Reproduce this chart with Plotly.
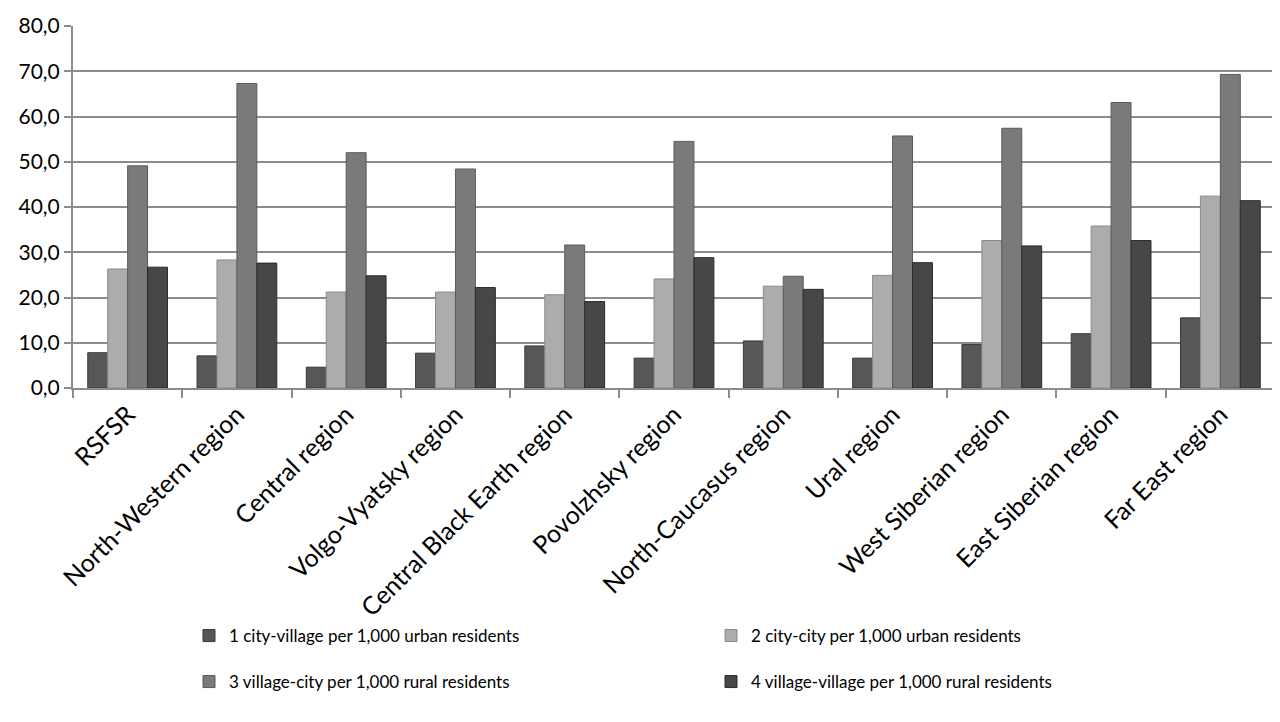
import plotly.graph_objects as go

categories = ["RSFSR", "North-Western region", "Central region", "Volgo-Vyatsky region",
              "Central Black Earth region", "Povolzhsky region", "North-Caucasus region",
              "Ural region", "West Siberian region", "East Siberian region", "Far East region"]

series_names = ["1 city-village per 1,000 urban residents",
                "2 city-city per 1,000 urban residents",
                "3 village-city per 1,000 rural residents",
                "4 village-village per 1,000 rural residents"]

city_village = [7.8, 7.1, 4.6, 7.7, 9.3, 6.6, 10.4, 6.6, 9.6, 12.0, 15.5]
city_city = [26.3, 28.3, 21.2, 21.2, 20.6, 24.1, 22.5, 24.9, 32.6, 35.8, 42.4]
village_city = [49.1, 67.3, 52.0, 48.4, 31.6, 54.5, 24.7, 55.7, 57.4, 63.1, 69.3]
village_village = [26.7, 27.6, 24.8, 22.2, 19.1, 28.8, 21.8, 27.7, 31.4, 32.6, 41.4]

colors = ["#575757", "#acacac", "#7a7a7a", "#474747"]
line_colors = ["#3a3a3a", "#8a8a8a", "#5a5a5a", "#2a2a2a"]
legends = ["legend", "legend", "legend2", "legend2"]

W, H = 1272, 714

fig = go.Figure()
for name, vals, c, lc, lg in zip(series_names,
                                 [city_village, city_city, village_city, village_village],
                                 colors, line_colors, legends):
    fig.add_trace(go.Bar(x=categories, y=vals, name=name, legend=lg,
                         marker=dict(color=c, line=dict(color=lc, width=1))))

font_family = "Lato, Open Sans, sans-serif"
leg_common = dict(orientation="h", xref="container", yref="container",
                  xanchor="left", yanchor="middle",
                  entrywidth=477, entrywidthmode="pixels", font=dict(size=17),
                  traceorder="normal", bgcolor="rgba(0,0,0,0)")
fig.update_layout(
    width=W, height=H,
    margin=dict(l=65, r=5, t=18, b=334, autoexpand=False),
    plot_bgcolor="white", paper_bgcolor="white",
    separators=", ",
    barmode="group", bargap=0.27, bargroupgap=0.0,
    font=dict(family=font_family, size=18, color="#000000"),
    legend=dict(x=181 / W, y=1 - 628 / H, **leg_common),
    legend2=dict(x=181 / W, y=1 - 674 / H, **leg_common),
)
fig.update_yaxes(range=[0, 80], dtick=10, tickformat=".1f",
                 showgrid=True, gridcolor="#8c8c8c", gridwidth=2,
                 showline=True, linecolor="#8c8c8c", linewidth=2,
                 ticks="outside", ticklen=7, tickcolor="#8c8c8c", tickwidth=2,
                 tickfont=dict(size=21), zeroline=False, automargin=False)
fig.update_xaxes(showline=True, linecolor="#8c8c8c", linewidth=2,
                 ticks="outside", tickson="boundaries", ticklen=8,
                 tickcolor="#8c8c8c", tickwidth=2, tickangle=-45,
                 tickfont=dict(size=25), showgrid=False, automargin=False)

fig.write_html("out.html")
